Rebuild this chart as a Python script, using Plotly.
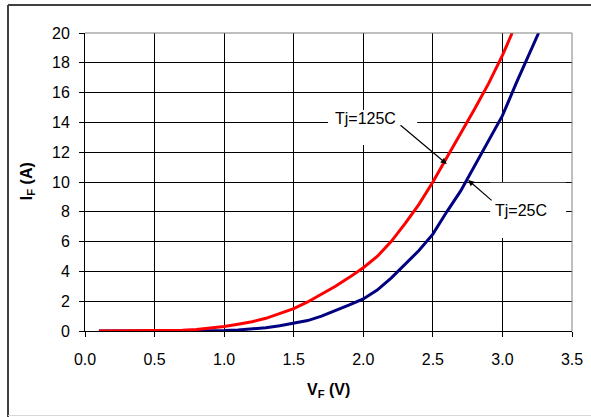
import plotly.graph_objects as go

# Forward voltage (V) and forward current (A), Tj = 125C
v125 = [0.1, 0.3, 0.5, 0.7, 0.8, 0.9, 1.0, 1.1, 1.2, 1.3, 1.4, 1.5, 1.6, 1.7, 1.8, 1.9,
        2.0, 2.1, 2.2, 2.3, 2.4, 2.5, 2.6, 2.7, 2.8, 2.9, 3.0, 3.07]
i125 = [0, 0, 0, 0.05, 0.1, 0.18, 0.3, 0.45, 0.62, 0.85, 1.15, 1.5, 1.95, 2.45, 3.0, 3.6,
        4.25, 5.0, 6.0, 7.2, 8.5, 10.0, 11.6, 13.3, 14.9, 16.6, 18.5, 20]

# Tj = 25C
v25 = [0.1, 0.5, 0.8, 0.9, 1.0, 1.1, 1.2, 1.3, 1.4, 1.5, 1.6, 1.7, 1.8, 1.9,
       2.0, 2.1, 2.2, 2.3, 2.4, 2.5, 2.6, 2.7, 2.8, 2.9, 3.0, 3.1, 3.2, 3.26]
i25 = [0, 0, 0, 0.01, 0.03, 0.07, 0.13, 0.22, 0.35, 0.5, 0.7, 1.0, 1.35, 1.75,
       2.15, 2.75, 3.55, 4.45, 5.4, 6.5, 8.0, 9.4, 11.1, 12.85, 14.45, 16.65, 18.8, 20]

xticks = [0.0, 0.5, 1.0, 1.5, 2.0, 2.5, 3.0, 3.5]
yticks = [0, 2, 4, 6, 8, 10, 12, 14, 16, 18, 20]

FONT = "Arial, Liberation Sans, sans-serif"

fig = go.Figure()
fig.add_trace(go.Scatter(x=v25, y=i25, mode="lines",
                         line=dict(color="#000080", width=3), name="Tj=25C"))
fig.add_trace(go.Scatter(x=v125, y=i125, mode="lines",
                         line=dict(color="#FF0000", width=3), name="Tj=125C"))

shapes = [
    # white label boxes (between gridlines and traces)
    dict(type="rect", xref="x", yref="y", x0=1.747, x1=2.387, y0=12.48, y1=14.83,
         fillcolor="white", line=dict(width=0), layer="between"),
    dict(type="rect", xref="x", yref="y", x0=2.912, x1=3.458, y0=6.24, y1=9.95,
         fillcolor="white", line=dict(width=0), layer="between"),
    # plot area border top / right (gray)
    dict(type="line", xref="paper", yref="paper", x0=0, x1=1, y0=1, y1=1,
         line=dict(color="#808080", width=1)),
    dict(type="line", xref="paper", yref="paper", x0=1, x1=1, y0=0, y1=1,
         line=dict(color="#808080", width=1)),
    # outer chart border
    dict(type="line", xref="paper", yref="paper", x0=-0.1581, x1=-0.1581, y0=-0.29, y1=1.094,
         line=dict(color="#404040", width=2)),
    dict(type="line", xref="paper", yref="paper", x0=-0.1581, x1=1.04, y0=1.094, y1=1.094,
         line=dict(color="#404040", width=2)),
    dict(type="line", xref="paper", yref="paper", x0=-0.1581, x1=1.04, y0=-0.2836, y1=-0.2836,
         line=dict(color="#d8d8d8", width=1)),
]

annotations = [
    dict(x=2.013, y=14.23, xref="x", yref="y", text="Tj=125C", showarrow=False,
         font=dict(family=FONT, size=16, color="black")),
    dict(x=3.132, y=8.07, xref="x", yref="y", text="Tj=25C", showarrow=False,
         font=dict(family=FONT, size=16, color="black")),
    dict(x=2.600, y=11.21, ax=2.257, ay=13.89, xref="x", yref="y", axref="x", ayref="y",
         text="", showarrow=True, arrowhead=2, arrowsize=1, arrowwidth=1.2,
         arrowcolor="black", standoff=0),
    dict(x=2.753, y=10.13, ax=2.933, ay=8.68, xref="x", yref="y", axref="x", ayref="y",
         text="", showarrow=True, arrowhead=2, arrowsize=1, arrowwidth=1.2,
         arrowcolor="black", standoff=0),
    # axis titles
    dict(x=0.501, y=-0.198, xref="paper", yref="paper", text="<b>V<sub>F</sub> (V)</b>",
         showarrow=False, xanchor="center", yanchor="middle",
         font=dict(family=FONT, size=16, color="black")),
    dict(x=-0.119, y=0.503, xref="paper", yref="paper", text="<b>I<sub>F</sub> (A)</b>",
         showarrow=False, xanchor="center", yanchor="middle", textangle=-90,
         font=dict(family=FONT, size=16, color="black")),
]

fig.update_layout(
    template="none",
    width=591, height=417,
    margin=dict(l=85, r=19, t=33, b=86, pad=0),
    paper_bgcolor="white", plot_bgcolor="white",
    showlegend=False,
    font=dict(family=FONT, size=16, color="black"),
    shapes=shapes, annotations=annotations,
    xaxis=dict(range=[0, 3.5], tickvals=xticks, tickformat=".1f", automargin=False,
               showgrid=True, gridcolor="black", gridwidth=1,
               showline=True, linecolor="black", linewidth=1,
               ticks="outside", ticklen=5, tickcolor="black",
               zeroline=False, tickfont=dict(family=FONT, size=16),
               ticklabelstandoff=9),
    yaxis=dict(range=[0, 20], tickvals=yticks, automargin=False,
               showgrid=True, gridcolor="black", gridwidth=1,
               showline=True, linecolor="black", linewidth=1,
               ticks="outside", ticklen=5, tickcolor="black",
               zeroline=False, tickfont=dict(family=FONT, size=16),
               ticklabelstandoff=6),
)

fig.write_html("out.html", config={"displayModeBar": False},
               post_script="document.body.style.margin='0px';")
